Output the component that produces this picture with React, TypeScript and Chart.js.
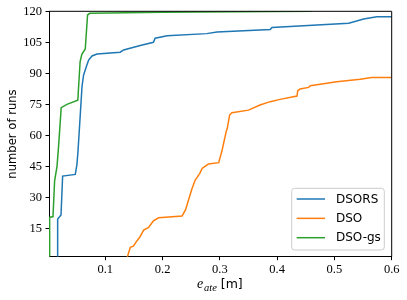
import React, { useEffect, useRef } from 'react';
import { Chart, registerables } from 'chart.js';

Chart.register(...registerables);

const seriesLabels = ['DSORS', 'DSO', 'DSO-gs'];
const seriesColors = ['#1f77b4', '#ff7f0e', '#2ca02c'];

const dsorsX = [0.0168, 0.0168, 0.0227, 0.0255, 0.0476, 0.0505, 0.0525, 0.0545, 0.0593, 0.0621, 0.0668, 0.0709, 0.0768, 0.0855, 0.126, 0.132, 0.161, 0.184, 0.187, 0.208, 0.277, 0.295, 0.388, 0.391, 0.525, 0.551, 0.574, 0.6];
const dsorsY = [1, 19.5, 21.5, 40.3, 41.1, 46, 53, 62, 83.5, 89.2, 93.2, 96.4, 98.4, 99.3, 100.2, 101.3, 103.5, 105, 107, 108.2, 109.2, 110, 111.2, 112.2, 114.2, 116.3, 117.4, 117.4];

const dsoX = [0.1384, 0.1436, 0.149, 0.154, 0.16, 0.167, 0.1756, 0.184, 0.193, 0.234, 0.24, 0.247, 0.251, 0.257, 0.265, 0.269, 0.28, 0.298, 0.304, 0.311, 0.313, 0.317, 0.321, 0.35, 0.37, 0.388, 0.405, 0.4346, 0.436, 0.44, 0.455, 0.458, 0.504, 0.545, 0.565, 0.6];
const dsoY = [1, 5.8, 6.4, 8.5, 10.7, 14.2, 15.5, 18.7, 20.1, 21, 23.9, 30.3, 33.9, 38.4, 41.6, 44, 46.1, 46.8, 52.9, 61.8, 63.4, 69.8, 70.9, 72.2, 74.7, 76.3, 77.4, 79, 81.6, 82.4, 83.2, 84, 85.9, 87.1, 88, 88];

const dsoGsX = [0.0028, 0.0028, 0.0087, 0.0115, 0.0157, 0.0185, 0.023, 0.033, 0.052, 0.056, 0.059, 0.065, 0.069, 0.073, 0.2, 0.46];
const dsoGsY = [1, 20.3, 20.7, 38, 45, 55, 73.4, 75, 77, 95.6, 99.2, 101.8, 118.2, 119, 119.5, 120];

const xTicks = [0.1, 0.2, 0.3, 0.4, 0.5, 0.6];
const yTicks = [15, 30, 45, 60, 75, 90, 105, 120];
const xRange = [0.0017, 0.6];
const yRange = [1.3, 120];

const SERIF = '"Liberation Serif", "DejaVu Serif", serif';
const SANS = '"DejaVu Sans", sans-serif';

const toPoints = (xs: number[], ys: number[]) => xs.map((x, i) => ({ x, y: ys[i] }));

const decorPlugin = {
  id: 'decor',
  afterDraw(chart: any) {
    const ctx = chart.ctx as CanvasRenderingContext2D;
    const a = chart.chartArea;
    ctx.save();
    // top & right spines
    ctx.strokeStyle = '#000';
    ctx.lineWidth = 1;
    ctx.beginPath();
    ctx.moveTo(a.left, a.top);
    ctx.lineTo(a.right, a.top);
    ctx.lineTo(a.right, a.bottom);
    ctx.stroke();

    // legend
    const bx = 291.7, by = 188.3, bw = 92.6, bh = 61.7, r = 3;
    ctx.beginPath();
    ctx.moveTo(bx + r, by);
    ctx.lineTo(bx + bw - r, by);
    ctx.quadraticCurveTo(bx + bw, by, bx + bw, by + r);
    ctx.lineTo(bx + bw, by + bh - r);
    ctx.quadraticCurveTo(bx + bw, by + bh, bx + bw - r, by + bh);
    ctx.lineTo(bx + r, by + bh);
    ctx.quadraticCurveTo(bx, by + bh, bx, by + bh - r);
    ctx.lineTo(bx, by + r);
    ctx.quadraticCurveTo(bx, by, bx + r, by);
    ctx.closePath();
    ctx.fillStyle = 'rgba(255,255,255,0.8)';
    ctx.fill();
    ctx.strokeStyle = '#cccccc';
    ctx.lineWidth = 1;
    ctx.stroke();
    const ds = chart.data.datasets;
    ds.forEach((d: any, i: number) => {
      const ry = 199 + i * 19.35;
      ctx.strokeStyle = d.borderColor;
      ctx.lineWidth = 1.5;
      ctx.beginPath();
      ctx.moveTo(296.7, ry);
      ctx.lineTo(325, ry);
      ctx.stroke();
      ctx.fillStyle = '#000';
      ctx.font = `12px ${SANS}`;
      ctx.textAlign = 'left';
      ctx.textBaseline = 'middle';
      ctx.fillText(d.label, 336, ry + 0.5);
    });

    // y title
    ctx.save();
    ctx.translate(13, (a.top + a.bottom) / 2);
    ctx.rotate(-Math.PI / 2);
    ctx.font = `11.6px ${SANS}`;
    ctx.textAlign = 'center';
    ctx.textBaseline = 'middle';
    ctx.fillStyle = '#000';
    ctx.fillText('number of runs', 0, 0);
    ctx.restore();

    // x title: e_ate [m]
    const fMain = `italic 14px ${SERIF}`;
    const fSub = `italic 10.5px ${SERIF}`;
    const fUnit = `12.5px ${SANS}`;
    ctx.font = fMain; const w1 = ctx.measureText('e').width;
    ctx.font = fSub; const w2 = ctx.measureText('ate').width;
    ctx.font = fUnit; const w3 = ctx.measureText(' [m]').width;
    const total = w1 + w2 + w3 + 0.8;
    let x0 = (a.left + a.right) / 2 - total / 2 - 0.5;
    const base = 288.3;
    ctx.textAlign = 'left';
    ctx.textBaseline = 'alphabetic';
    ctx.fillStyle = '#000';
    ctx.font = fMain; ctx.fillText('e', x0, base); x0 += w1 + 0.8;
    ctx.font = fSub; ctx.fillText('ate', x0, base + 2.4); x0 += w2;
    ctx.font = fUnit; ctx.fillText(' [m]', x0, base);
    ctx.restore();
  },
};

export default function App() {
  const ref = useRef<HTMLCanvasElement | null>(null);
  useEffect(() => {
    document.body.style.margin = '0';
    if (!ref.current) return;
    const datasets = [
      { label: seriesLabels[0], data: toPoints(dsorsX, dsorsY), borderColor: seriesColors[0], order: 3 },
      { label: seriesLabels[1], data: toPoints(dsoX, dsoY), borderColor: seriesColors[1], order: 2 },
      { label: seriesLabels[2], data: toPoints(dsoGsX, dsoGsY), borderColor: seriesColors[2], order: 1 },
    ].map((d) => ({
      ...d,
      backgroundColor: d.borderColor,
      borderWidth: 1.5,
      pointRadius: 0,
      showLine: true,
      tension: 0,
      fill: false,
    }));
    const chart = new Chart(ref.current, {
      type: 'scatter',
      data: { datasets },
      options: {
        animation: false,
        responsive: false,
        maintainAspectRatio: false,
        layout: { padding: { left: 0, right: 15.3, top: 11.3, bottom: 0 } },
        plugins: { legend: { display: false }, tooltip: { enabled: false } },
        scales: {
          x: {
            type: 'linear',
            min: xRange[0],
            max: xRange[1],
            afterBuildTicks: (s: any) => { s.ticks = xTicks.map((v) => ({ value: v })); },
            afterFit: (s: any) => { s.height = 43.3; },
            ticks: {
              font: { family: SERIF, size: 12.5 },
              color: '#000',
              padding: 2,
              maxRotation: 0,
              autoSkip: false,
              callback: (v: any) => Number(v).toFixed(1),
            },
            grid: { drawOnChartArea: false, drawTicks: true, tickLength: 3.5, tickColor: '#000', tickWidth: 1 },
            border: { display: true, color: '#000', width: 1 },
          },
          y: {
            type: 'linear',
            min: yRange[0],
            max: yRange[1],
            afterBuildTicks: (s: any) => { s.ticks = yTicks.map((v) => ({ value: v })); },
            afterFit: (s: any) => { s.width = 49; },
            ticks: {
              font: { family: SERIF, size: 12.5 },
              color: '#000',
              padding: 3.5,
              autoSkip: false,
              callback: (v: any) => String(v),
            },
            grid: { drawOnChartArea: false, drawTicks: true, tickLength: 3.5, tickColor: '#000', tickWidth: 1 },
            border: { display: true, color: '#000', width: 1 },
          },
        },
      },
      plugins: [decorPlugin],
    } as any);
    return () => chart.destroy();
  }, []);
  return (
    <div style={{ width: 407, height: 300, background: '#fff' }}>
      <canvas ref={ref} width={407} height={300} style={{ display: 'block', width: 407, height: 300 }} />
    </div>
  );
}
